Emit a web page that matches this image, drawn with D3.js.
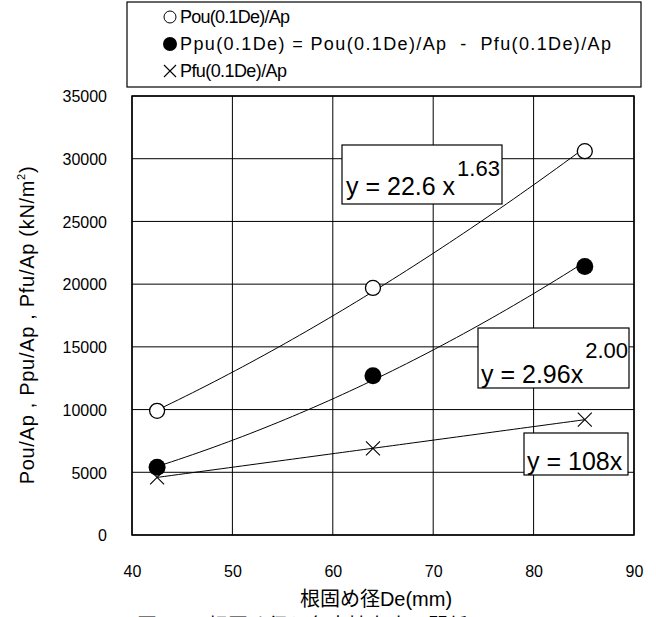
<!DOCTYPE html>
<html><head><meta charset="utf-8">
<script src="https://cdn.jsdelivr.net/npm/d3@7"></script>
<style>
body{margin:0;background:#fff;}
svg{display:block;}
text{font-family:"Liberation Sans",Arial,sans-serif;fill:#000;}
</style></head>
<body><svg id="c" width="656" height="617"></svg>
<script>
// ---- data ----
const De = [42.5, 64.0, 85.1];
const Pou = [9900, 19700, 30600];
const Ppu = [5400, 12700, 21400];
const Pfu = [4600, 6900, 9200];
const xTicks = [40, 50, 60, 70, 80, 90];
const yTicks = [0, 5000, 10000, 15000, 20000, 25000, 30000, 35000];
const legendLabels = ["Pou(0.1De)/Ap", "Ppu(0.1De) = Pou(0.1De)/Ap  -  Pfu(0.1De)/Ap", "Pfu(0.1De)/Ap"];
const eqLabels = [["y = 22.6 x", "1.63"], ["y = 2.96x", "2.00"], ["y = 108x", ""]];

const svg = d3.select("#c");
const L = 132, R = 634, T = 96, B = 535;
const x = d3.scaleLinear().domain([40, 90]).range([L, R]);
const y = d3.scaleLinear().domain([0, 35000]).range([B, T]);

// grid
const g = svg.append("g");
g.selectAll(".vx").data(xTicks).enter().append("line")
  .attr("x1", d => x(d)).attr("x2", d => x(d)).attr("y1", T).attr("y2", B)
  .attr("stroke", "#000").attr("stroke-width", 1);
g.selectAll(".hy").data(yTicks).enter().append("line")
  .attr("y1", d => y(d)).attr("y2", d => y(d)).attr("x1", L).attr("x2", R)
  .attr("stroke", "#000").attr("stroke-width", 1);
svg.append("rect").attr("x", L).attr("y", T).attr("width", R - L).attr("height", B - T)
  .attr("fill", "none").attr("stroke", "#000").attr("stroke-width", 1.5);

// axes (labels only)
const xAxis = d3.axisBottom(x).tickValues(xTicks).tickSize(0).tickPadding(0).tickFormat(d3.format("d"));
const ax = svg.append("g").attr("transform", `translate(0,${B})`).call(xAxis);
ax.select(".domain").remove();
ax.selectAll("text").attr("font-size", 16).attr("font-family", "Liberation Sans, Arial, sans-serif")
  .attr("fill", "#000").attr("y", 42).attr("dy", "0");

const yAxis = d3.axisLeft(y).tickValues(yTicks).tickSize(0).tickPadding(0).tickFormat(d3.format("d"));
const ay = svg.append("g").attr("transform", `translate(107,0)`).call(yAxis);
ay.select(".domain").remove();
ay.selectAll("text").attr("font-size", 16).attr("font-family", "Liberation Sans, Arial, sans-serif")
  .attr("fill", "#000").attr("dy", "0.36em");

// fits
function powerFit(xs, ys) {
  const lx = xs.map(Math.log), ly = ys.map(Math.log);
  const mx = d3.mean(lx), my = d3.mean(ly);
  const b = d3.sum(lx.map((v, i) => (v - mx) * (ly[i] - my))) / d3.sum(lx.map(v => (v - mx) ** 2));
  const a = Math.exp(my - b * mx);
  return v => a * Math.pow(v, b);
}
function originFit(xs, ys) {
  const k = d3.sum(xs.map((v, i) => v * ys[i])) / d3.sum(xs.map(v => v * v));
  return v => k * v;
}
const fits = [powerFit(De, Pou), powerFit(De, Ppu), originFit(De, Pfu)];
const xs = d3.range(0, 61).map(i => De[0] + (De[2] - De[0]) * i / 60);
const line = d3.line().x(d => x(d[0])).y(d => y(d[1]));
fits.forEach(f => {
  svg.append("path").attr("d", line(xs.map(v => [v, f(v)])))
    .attr("fill", "none").attr("stroke", "#000").attr("stroke-width", 1);
});

// markers
function cross(sel, cx, cy, s) {
  sel.append("path").attr("d", `M${cx - s},${cy - s}L${cx + s},${cy + s}M${cx - s},${cy + s}L${cx + s},${cy - s}`)
    .attr("stroke", "#000").attr("stroke-width", 1.1).attr("fill", "none");
}
De.forEach((d, i) => {
  svg.append("circle").attr("cx", x(d)).attr("cy", y(Pou[i])).attr("r", 7.5)
    .attr("fill", "#fff").attr("stroke", "#000").attr("stroke-width", 1.3);
  svg.append("circle").attr("cx", x(d)).attr("cy", y(Ppu[i])).attr("r", 8.5).attr("fill", "#000");
  cross(svg, x(d), y(Pfu[i]), 7);
});

// equation boxes
const eqBoxes = [
  {x: 342, y: 145, w: 160, h: 59, tx: 346, ty: 195, dy: -19},
  {x: 478, y: 328, w: 151, h: 60, tx: 481, ty: 383, dy: -25},
  {x: 524, y: 433, w: 104, h: 42, tx: 527, ty: 470, dy: 0}
];
eqBoxes.forEach((b, i) => {
  svg.append("rect").attr("x", b.x).attr("y", b.y).attr("width", b.w).attr("height", b.h)
    .attr("fill", "#fff").attr("stroke", "#000").attr("stroke-width", 1.2);
  const t = svg.append("text").attr("x", b.tx).attr("y", b.ty).attr("font-size", 25);
  t.append("tspan").text(eqLabels[i][0]);
  if (eqLabels[i][1]) t.append("tspan").attr("font-size", 22).attr("dx", 2).attr("dy", b.dy).text(eqLabels[i][1]);
});

// legend
svg.append("rect").attr("x", 127).attr("y", 2).attr("width", 514).attr("height", 85)
  .attr("fill", "#fff").attr("stroke", "#000").attr("stroke-width", 1.2);
const ly = [17, 44, 71];
const lw = [110, 431, 107];
svg.append("circle").attr("cx", 170).attr("cy", ly[0]).attr("r", 6).attr("fill", "none").attr("stroke", "#000").attr("stroke-width", 1);
svg.append("circle").attr("cx", 170).attr("cy", ly[1]).attr("r", 7).attr("fill", "#000");
cross(svg, 170, ly[2], 6);
legendLabels.forEach((t, i) => {
  svg.append("text").attr("x", 180).attr("y", ly[i]).attr("dy", "0.36em").attr("font-size", 18)
    .attr("textLength", lw[i]).attr("lengthAdjust", "spacing").style("white-space", "pre").text(t);
});

// axis titles
svg.append("text").attr("x", 376).attr("y", 606).attr("text-anchor", "middle")
  .attr("font-size", 20).style("font-family", "'Liberation Sans','Noto Sans CJK JP',sans-serif").text("根固め径De(mm)");
const yt = svg.append("text").attr("transform", "translate(34,325) rotate(-90)").attr("text-anchor", "middle")
  .attr("font-size", 20).attr("letter-spacing", 0.7);
yt.append("tspan").text("Pou/Ap , Ppu/Ap , Pfu/Ap (kN/m");
yt.append("tspan").attr("font-size", 11).attr("dy", -9).text("2");
yt.append("tspan").attr("dy", 9).text(")");

// clipped caption at the bottom edge
svg.append("text").attr("x", 137).attr("y", 633).attr("font-size", 20)
  .style("font-family", "'Noto Sans CJK JP',sans-serif").text("図－3　根固め径と各支持力度の関係");
</script></body></html>
